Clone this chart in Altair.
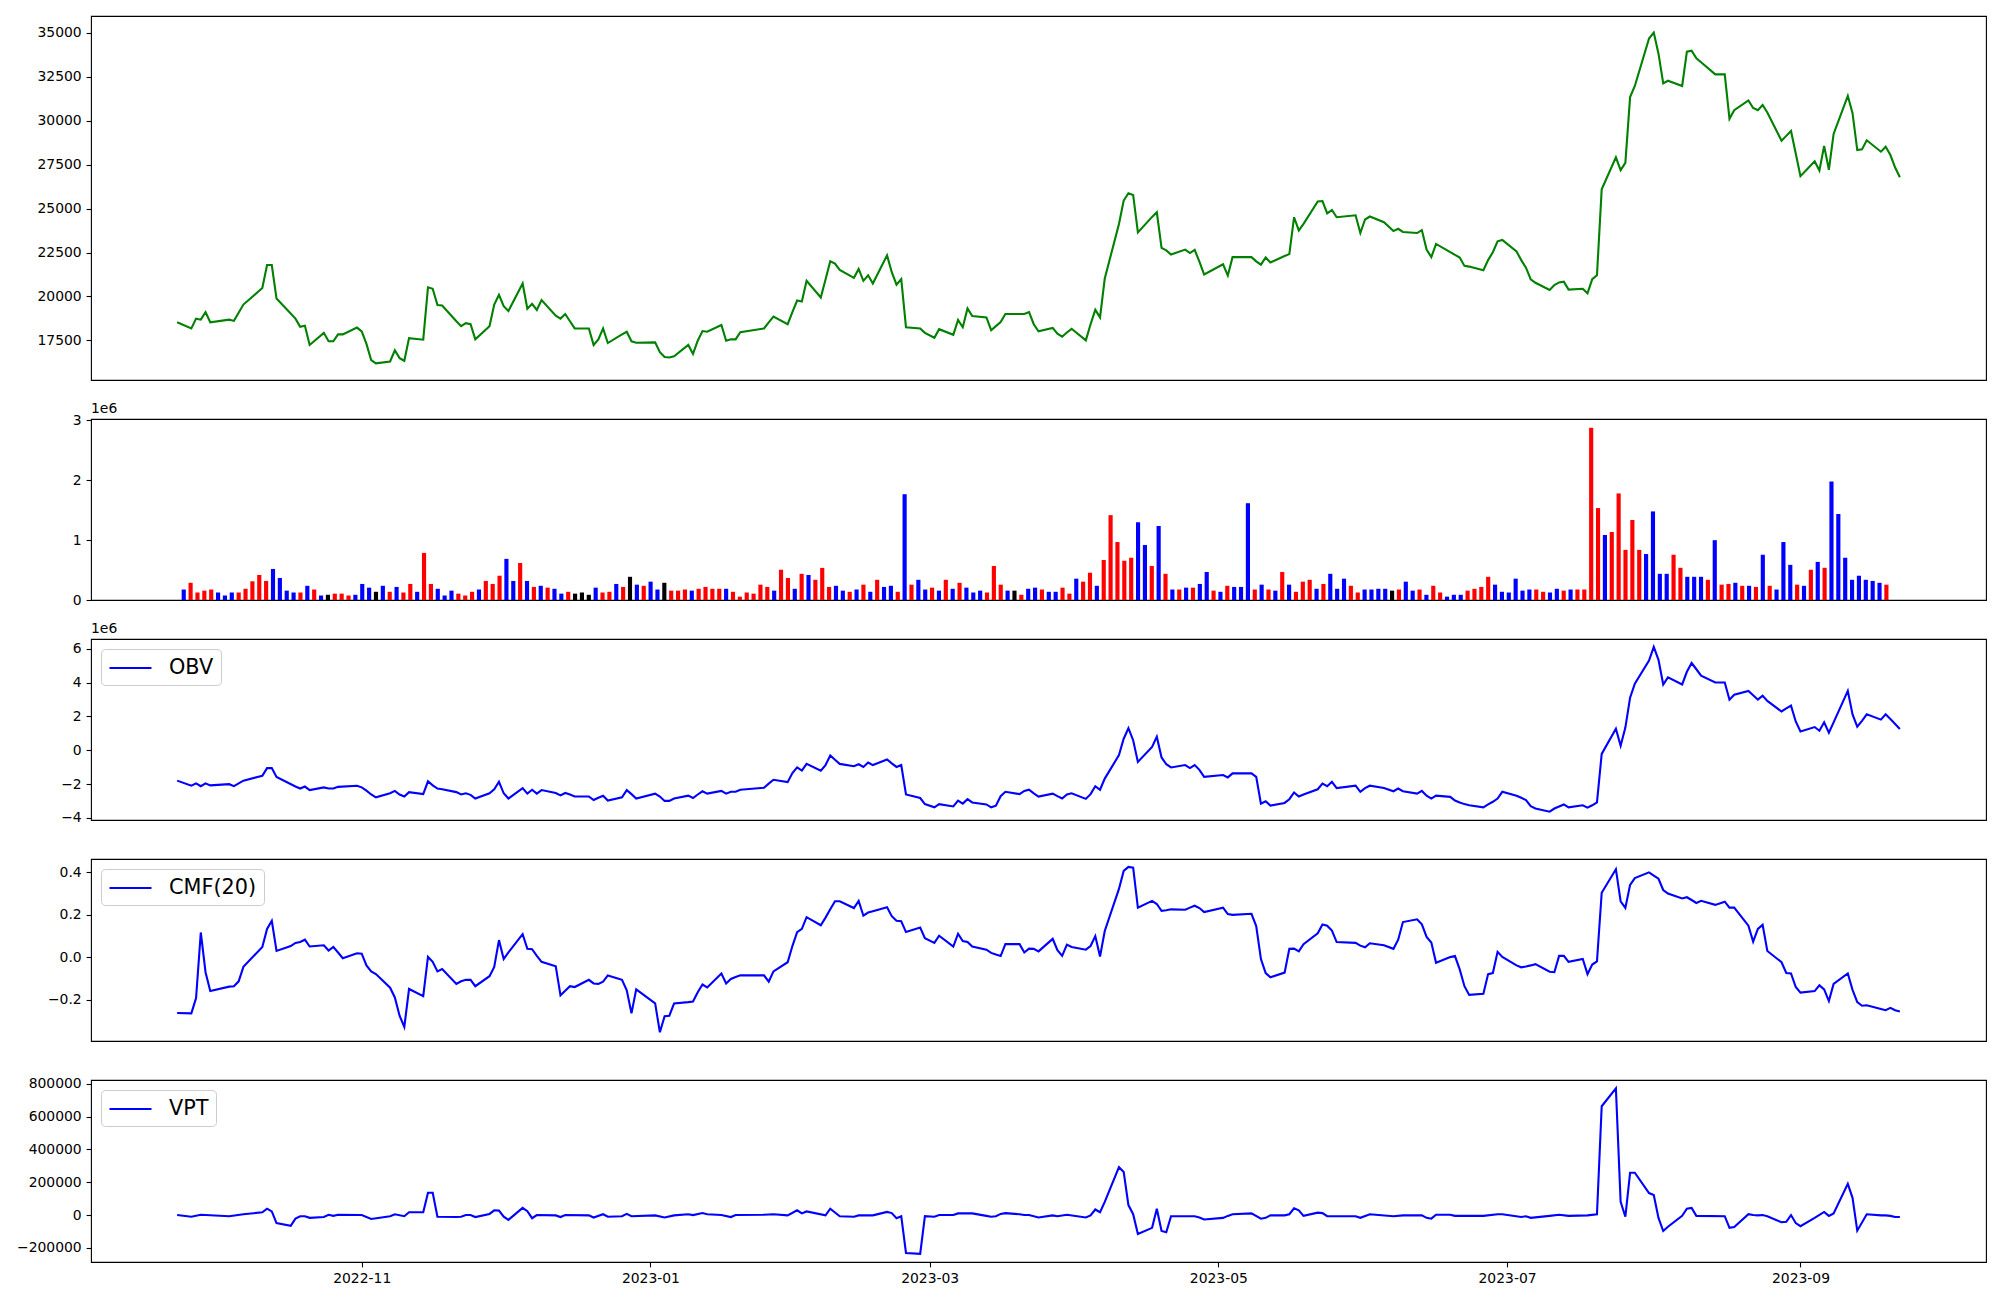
import altair as alt
import pandas as pd

START = pd.Timestamp("2022-09-23")

# (calendar days since 2022-09-23, close)
price_points = [
    (0,18530),(3,18180),(4,18740),(5,18680),(6,19110),(7,18530),(11,18680),(12,18610),(14,19540),
    (18,20480),(19,21790),(20,21790),(21,19880),(25,18740),(26,18270),(27,18330),(28,17240),
    (31,17930),(32,17450),(33,17450),(34,17840),(35,17840),(38,18230),(39,18010),(40,17300),(41,16380),(42,16190),
    (45,16300),(46,16940),(47,16490),(48,16340),(49,17630),(52,17540),(53,20520),(54,20440),(55,19510),(56,19490),
    (59,18590),(60,18310),(61,18480),(62,18420),(63,17560),(66,18310),(67,19540),(68,20090),(69,19450),(70,19170),
    (73,20740),(74,19300),(75,19580),(76,19230),(77,19790),(80,18910),(81,18740),(82,19000),(83,18590),(84,18180),
    (87,18180),(88,17240),(89,17560),(90,18180),(91,17350),(94,17840),(95,17990),(96,17450),(97,17370),
    (101,17390),(102,16830),(103,16550),(104,16530),(105,16600),(108,17240),(109,16730),(110,17480),(111,18030),(112,17990),
    (115,18380),(116,17480),(117,17560),(118,17560),(119,17970),(124,18180),(125,18530),(126,18850),
    (129,18420),(130,19110),(131,19770),(132,19710),(133,20890),(136,19940),(137,20970),(138,22000),(139,21870),(140,21510),
    (143,21060),(144,21570),(145,20890),(146,21210),(147,20740),(150,22340),(151,21380),(152,20670),(153,20990),(154,18250),
    (157,18180),(158,17930),(160,17650),(161,18140),(164,17820),(165,18660),(166,18250),(167,19320),(168,18890),
    (171,18810),(172,18080),(173,18310),(174,18550),(175,19000),(178,19000),(179,19000),(180,19110),(181,18420),(182,18020),
    (185,18210),(186,17880),(187,17710),(188,17950),(189,18160),(192,17500),(193,18420),(194,19240),(195,18810),(196,21020),
    (199,24130),(200,25460),(201,25880),(202,25780),(203,23650),(206,24530),(207,24790),(208,22770),(209,22620),(210,22390),
    (213,22670),(214,22470),(215,22650),(216,21980),(217,21250),(221,21830),(222,21190),(223,22240),
    (227,22240),(228,22000),(229,21810),(230,22220),(231,21940),(234,22300),(235,22410),(236,24510),(237,23760),(238,24130),
    (241,25410),(242,25430),(243,24730),(244,24920),(245,24510),(249,24620),(250,23610),(251,24380),(252,24550),
    (255,24230),(257,23720),(258,23850),(259,23670),(262,23610),(263,23780),(264,22670),(265,22240),(266,22990),
    (269,22520),(270,22370),(271,22220),(272,21740),(273,21700),(276,21490),(277,22070),(278,22520),(279,23140),(280,23220),
    (283,22560),(284,22070),(285,21640),(286,20970),(287,20780),(290,20370),(291,20650),(292,20800),(293,20840),(294,20390),
    (297,20440),(298,20180),(299,20990),(300,21210),(301,26100),(304,27920),(305,27190),(306,27600),(307,31350),(308,31980),
    (311,34680),(312,35020),(313,33820),(314,32130),(315,32280),(318,31980),(319,33930),(320,33990),(321,33560),(322,33330),
    (325,32640),(327,32640),(328,30110),(329,30600),(332,31160),(333,30730),(334,30600),(335,30900),(336,30470),
    (339,28870),(340,29140),(341,29420),(342,28140),(343,26850),(346,27690),(347,27170),(348,28570),(349,27210),(350,29250),
    (353,31420),(354,30430),(355,28330),(356,28370),(357,28890),(360,28240),(361,28520),(362,28050),(363,27340),(364,26790),
]

# daily volume, in thousands (one bar per trading day)
volume_k = [
    175,287,125,156,175,125,75,125,125,187,312,418,318,518,368,156,125,125,237,175,75,87,106,106,75,87,268,206,137,237,
    137,218,125,268,137,786,268,187,75,156,106,
    75,137,175,318,268,405,686,318,617,318,218,237,206,187,106,137,106,125,87,206,125,137,268,218,387,256,237,306,175,287,
    156,156,175,156,187,218,187,187,187,137,56,125,106,
    256,218,156,505,368,187,437,418,337,536,218,237,156,137,175,256,137,337,218,237,137,1765,256,337,175,206,156,337,187,287,
    206,125,156,125,568,256,156,156,87,187,206,175,
    137,137,206,106,356,306,455,237,667,1416,967,655,705,1297,917,568,1235,437,175,175,206,206,268,468,156,137,237,218,218,1615,
    175,256,175,156,468,256,137,306,337,187,268,437,
    187,356,237,125,175,175,187,187,156,175,306,156,175,87,237,125,56,87,87,156,187,218,387,256,137,125,356,156,175,175,
    137,125,187,156,175,175,175,2875,1534,1085,1135,1778,
    836,1335,836,767,1478,437,437,755,537,387,387,387,337,998,256,268,287,237,237,218,755,237,175,967,586,256,237,505,636,537,
    1977,1435,705,337,405,337,318,287,256,306,
]
# bar colour codes: r = red, b = blue, k = black
volume_codes = (
    "brrrrbbbrrrrrbbbbrbrbkrrrbbbkbrbrrbrrbbbr"
    "rrbrrrbbrbrbrbbrkkkbrrbrkbrbbkrrrbrrrrbrrrr"
    "rrbrrbrbrrrbbrbrbrbbrbrbbrbrbrbbbrrrbkrbbr"
    "bbrrbrrbrrrrrbbrbrbrbrbbrbrbbbrbrbrbrrrbrb"
    "bbrrbbbbkrbbrbrrbbbrrrrbbbbbbrrbbrbrrrrbrr"
    "rrrbbbbrrbbbrbrrbrbrbrbbbrbrbrbbbbbbbbr"
)
color_names = {"r": "red", "b": "blue", "k": "black"}

# (calendar days since 2022-09-23, OBV in millions)
obv_points = [
    (0,-1.80),(3,-2.10),(4,-1.96),(5,-2.13),(6,-1.96),(7,-2.08),(11,-2.01),(12,-2.13),(14,-1.80),(18,-1.51),(19,-1.06),(20,-1.06),(21,-1.58),
    (25,-2.15),(26,-2.27),(27,-2.15),(28,-2.36),(31,-2.20),(32,-2.27),(33,-2.27),(34,-2.17),(38,-2.10),(39,-2.20),(40,-2.39),(41,-2.62),(42,-2.79),
    (45,-2.55),(46,-2.41),(47,-2.62),(48,-2.74),(49,-2.48),(52,-2.60),(53,-1.84),(54,-2.08),(55,-2.27),(56,-2.31),
    (59,-2.48),(60,-2.62),(61,-2.55),(62,-2.64),(63,-2.86),(66,-2.55),(67,-2.31),(68,-1.87),(69,-2.55),(70,-2.86),
    (73,-2.24),(74,-2.57),(75,-2.34),(76,-2.57),(77,-2.36),(80,-2.53),(81,-2.67),(82,-2.53),(83,-2.62),(84,-2.74),
    (87,-2.74),(88,-2.95),(89,-2.81),(90,-2.69),(91,-2.98),(94,-2.79),(95,-2.36),(96,-2.60),(97,-2.86),
    (101,-2.57),(102,-2.74),(103,-3.00),(104,-3.00),(105,-2.86),(108,-2.69),(109,-2.83),(110,-2.62),(111,-2.43),(112,-2.57),
    (115,-2.41),(116,-2.57),(117,-2.46),(118,-2.46),(119,-2.34),(124,-2.22),(125,-1.98),(126,-1.75),
    (129,-1.89),(130,-1.35),(131,-1.02),(132,-1.21),(133,-0.81),(136,-1.21),(137,-0.88),(138,-0.31),(139,-0.57),(140,-0.81),
    (143,-0.95),(144,-0.83),(145,-0.99),(146,-0.73),(147,-0.88),(150,-0.55),(151,-0.78),(152,-0.99),(153,-0.88),(154,-2.62),
    (157,-2.83),(158,-3.19),(160,-3.38),(161,-3.19),(164,-3.33),(165,-2.98),(166,-3.16),(167,-2.90),(168,-3.09),
    (171,-3.21),(172,-3.38),(173,-3.28),(174,-2.72),(175,-2.46),(178,-2.60),(179,-2.41),(180,-2.34),(181,-2.55),(182,-2.74),
    (185,-2.57),(186,-2.72),(187,-2.86),(188,-2.62),(189,-2.55),(192,-2.88),(193,-2.60),(194,-2.13),(195,-2.34),(196,-1.68),
    (199,-0.29),(200,0.68),(201,1.30),(202,0.59),(203,-0.69),(206,0.19),(207,0.80),(208,-0.43),(209,-0.83),(210,-1.02),
    (213,-0.88),(214,-1.06),(215,-0.88),(216,-1.16),(217,-1.58),(221,-1.47),(222,-1.61),(223,-1.37),
    (227,-1.37),(228,-1.58),(229,-3.16),(230,-3.02),(231,-3.28),(234,-3.12),(235,-2.90),(236,-2.50),(237,-2.74),(238,-2.62),
    (241,-2.31),(242,-1.98),(243,-2.13),(244,-1.87),(245,-2.24),(249,-2.10),(250,-2.46),(251,-2.24),(252,-2.10),
    (255,-2.24),(257,-2.43),(258,-2.27),(259,-2.43),(262,-2.57),(263,-2.41),(264,-2.69),(265,-2.86),(266,-2.69),
    (269,-2.76),(270,-2.98),(271,-3.09),(272,-3.19),(273,-3.26),(276,-3.38),(277,-3.21),(278,-3.05),(279,-2.86),(280,-2.46),
    (283,-2.69),(284,-2.81),(285,-2.95),(286,-3.31),(287,-3.45),(290,-3.64),(291,-3.45),(292,-3.33),(293,-3.21),(294,-3.38),
    (297,-3.26),(298,-3.40),(299,-3.26),(300,-3.09),(301,-0.22),(304,1.27),(305,0.26),(306,1.34),(307,3.11),(308,3.94),
    (311,5.30),(312,6.11),(313,5.35),(314,3.89),(315,4.31),(318,3.89),(319,4.64),(320,5.16),(321,4.79),(322,4.41),
    (325,4.01),(327,4.01),(328,2.99),(329,3.28),(332,3.51),(333,3.25),(334,2.99),(335,3.23),(336,2.92),
    (339,2.29),(340,2.47),(341,2.64),(342,1.70),(343,1.11),(346,1.37),(347,1.15),(348,1.65),(349,1.04),(350,1.65),
    (353,3.51),(354,2.12),(355,1.39),(356,1.74),(357,2.12),(360,1.81),(361,2.12),(362,1.84),(363,1.55),(364,1.25),
]

# (calendar days since 2022-09-23, CMF(20))
cmf_points = [
    (0,-0.263),(3,-0.265),(4,-0.193),(5,0.116),(6,-0.071),(7,-0.160),(11,-0.139),(12,-0.137),(13,-0.114),(14,-0.046),
    (18,0.048),(19,0.133),(20,0.171),(21,0.029),(24,0.052),(25,0.067),(26,0.071),(27,0.082),(28,0.050),
    (31,0.056),(32,0.031),(33,0.048),(34,0.022),(35,-0.005),(38,0.018),(39,0.016),(40,-0.039),(41,-0.067),(42,-0.080),
    (45,-0.144),(46,-0.190),(47,-0.276),(48,-0.329),(49,-0.150),(52,-0.184),(53,0.001),(54,-0.022),(55,-0.067),(56,-0.056),
    (59,-0.126),(60,-0.114),(61,-0.107),(62,-0.107),(63,-0.137),(66,-0.090),(67,-0.046),(68,0.080),(69,-0.009),(70,0.022),
    (73,0.108),(74,0.039),(75,0.037),(76,0.006),(77,-0.022),(80,-0.043),(81,-0.180),(82,-0.158),(83,-0.137),(84,-0.141),
    (87,-0.107),(88,-0.124),(89,-0.126),(90,-0.116),(91,-0.086),(94,-0.107),(95,-0.156),(96,-0.265),(97,-0.152),
    (101,-0.218),(102,-0.354),(103,-0.278),(104,-0.276),(105,-0.218),(108,-0.212),(109,-0.209),(110,-0.165),(111,-0.129),(112,-0.143),
    (115,-0.077),(116,-0.124),(117,-0.103),(118,-0.094),(119,-0.086),(124,-0.086),(125,-0.116),(126,-0.067),
    (129,-0.024),(130,0.052),(131,0.118),(132,0.133),(133,0.188),(136,0.150),(137,0.186),(138,0.225),(139,0.263),(140,0.263),
    (143,0.231),(144,0.265),(145,0.195),(146,0.210),(147,0.216),(150,0.235),(151,0.193),(152,0.171),(153,0.169),(154,0.118),
    (157,0.139),(158,0.089),(160,0.067),(161,0.101),(164,0.050),(165,0.110),(166,0.076),(167,0.071),(168,0.050),
    (171,0.035),(172,0.020),(173,0.012),(174,0.005),(175,0.061),(178,0.061),(179,0.022),(180,0.040),(181,0.039),(182,0.027),
    (185,0.086),(186,0.033),(187,0.006),(188,0.059),(189,0.048),(192,0.035),(193,0.052),(194,0.099),(195,0.003),(196,0.123),
    (199,0.321),(200,0.406),(201,0.425),(202,0.421),(203,0.233),(206,0.265),(207,0.250),(208,0.218),(209,0.221),(210,0.225),
    (213,0.223),(214,0.233),(215,0.242),(216,0.231),(217,0.212),(221,0.233),(222,0.203),(223,0.199),
    (227,0.204),(228,0.146),(229,-0.009),(230,-0.075),(231,-0.095),(234,-0.073),(235,0.039),(236,0.040),(237,0.027),(238,0.061),
    (241,0.112),(242,0.154),(243,0.148),(244,0.125),(245,0.071),(249,0.067),(250,0.054),(251,0.046),(252,0.065),
    (255,0.056),(257,0.039),(258,0.082),(259,0.165),(262,0.178),(263,0.154),(264,0.095),(265,0.069),(266,-0.027),
    (269,0.000),(270,0.005),(271,-0.058),(272,-0.137),(273,-0.178),(276,-0.173),(277,-0.080),(278,-0.075),(279,0.025),(280,0.001),
    (283,-0.039),(284,-0.048),(285,-0.044),(286,-0.039),(287,-0.033),(290,-0.069),(291,-0.071),(292,0.006),(293,0.006),(294,-0.022),
    (297,-0.009),(298,-0.080),(299,-0.035),(300,-0.020),(301,0.303),(304,0.414),(305,0.263),(306,0.232),(307,0.340),(308,0.372),
    (311,0.399),(312,0.384),(313,0.369),(314,0.316),(315,0.299),(318,0.276),(319,0.282),(320,0.269),(321,0.255),(322,0.265),
    (325,0.246),(327,0.261),(328,0.233),(329,0.233),(332,0.148),(333,0.073),(334,0.133),(335,0.152),(336,0.029),
    (339,-0.024),(340,-0.075),(341,-0.077),(342,-0.141),(343,-0.167),(346,-0.160),(347,-0.133),(348,-0.152),(349,-0.207),(350,-0.126),
    (353,-0.077),(354,-0.154),(355,-0.212),(356,-0.229),(357,-0.227),(360,-0.244),(361,-0.250),(362,-0.239),(363,-0.250),(364,-0.256),
]

# (calendar days since 2022-09-23, VPT in thousands)
vpt_points = [
    (0,0),(3,-10),(5,2),(11,-7),(14,5),(18,17),(19,39),(20,22),(21,-49),(24,-66),(25,-22),(26,-7),(27,-7),(28,-17),
    (31,-12),(32,2),(33,-5),(34,2),(39,0),(41,-24),(45,-7),(46,5),(48,-7),(49,17),(52,17),(53,136),(54,136),(55,-10),
    (59,-12),(60,-10),(61,0),(62,0),(63,-12),(66,7),(67,29),(68,27),(69,-10),(70,-29),(73,44),(74,24),(75,-19),(76,0),
    (80,-2),(81,-12),(82,0),(87,-2),(88,-15),(90,5),(91,-10),(94,-7),(95,7),(96,-7),(101,-2),(103,-15),(105,-2),
    (108,5),(109,0),(111,12),(112,5),(115,0),(117,-12),(118,0),(124,2),(126,5),(129,-2),(131,29),(132,10),(133,22),
    (137,-2),(138,39),(140,-7),(143,-10),(144,-2),(147,-2),(150,19),(151,12),(152,-19),(153,-7),(154,-231),(157,-236),
    (158,-7),(160,-10),(161,0),(164,0),(165,10),(168,10),(171,-5),(172,-10),(173,-7),(174,7),(175,12),(178,5),(179,0),
    (180,0),(182,-15),(185,-2),(186,-7),(188,2),(192,-15),(193,-2),(194,34),(195,17),(196,80),(199,292),(200,263),
    (201,61),(202,5),(203,-115),(206,-78),(207,39),(208,-97),(209,-105),(210,-7),(215,-7),(216,-15),(217,-27),
    (221,-17),(222,-5),(223,5),(227,10),(229,-22),(230,-17),(231,-2),(234,-2),(235,5),(236,41),(237,29),(238,-5),
    (241,15),(242,12),(243,-7),(245,-7),(249,-7),(250,-17),(252,5),(257,-7),(259,-2),(263,-2),(264,-17),(265,-22),
    (266,2),(269,2),(270,-5),(276,-5),(279,5),(280,5),(284,-12),(285,-7),(286,-17),(290,-5),(292,2),(294,-5),
    (298,-2),(300,5),(301,663),(304,772),(305,80),(306,-10),(307,258),(308,258),(311,134),(312,122),(313,-17),
    (314,-97),(315,-71),(318,-5),(319,39),(320,44),(321,-5),(327,-7),(328,-78),(329,-73),(332,5),(333,0),(334,-2),
    (335,0),(336,-7),(339,-44),(340,-41),(341,0),(342,-49),(343,-68),(346,-17),(348,19),(349,-5),(350,10),
    (353,190),(354,105),(355,-95),(357,5),(360,-2),(361,-2),(362,-5),(363,-12),(364,-12),
]

offset_label = ["1e6"]
price_ticks = [17500, 20000, 22500, 25000, 27500, 30000, 32500, 35000]
volume_ticks = [0, 1e6, 2e6, 3e6]
obv_ticks = [-4e6, -2e6, 0, 2e6, 4e6, 6e6]
cmf_ticks = [-0.2, 0.0, 0.2, 0.4]
vpt_ticks = [-200000, 0, 200000, 400000, 600000, 800000]


def series_frame(points, factor=1.0, name=None):
    df = pd.DataFrame(points, columns=["day", "value"])
    df["date"] = [(START + pd.Timedelta(days=int(d))).strftime("%Y-%m-%dT00:00:00") for d in df["day"]]
    df["value"] = df["value"] * factor
    if name is not None:
        df["name"] = name
    return df.drop(columns=["day"])


price_df = series_frame(price_points)
obv_df = series_frame(obv_points, 1e6, "OBV")
cmf_df = series_frame(cmf_points, 1.0, "CMF(20)")
vpt_df = series_frame(vpt_points, 1e3, "VPT")

n = min(len(volume_k), len(volume_codes))
vol_df = pd.DataFrame({
    "idx": list(range(n)),
    "volume": [v * 1000 for v in volume_k[:n]],
    "color": [color_names[c] for c in volume_codes[:n]],
})
off_df = pd.DataFrame({"t": offset_label})

W = 1895
FONT = "DejaVu Sans"
X_DOMAIN = [
    alt.DateTime(year=2022, month=9, date=4, hours=19, minutes=12),
    alt.DateTime(year=2023, month=10, date=10, hours=4, minutes=48),
]
x_scale = alt.Scale(domain=X_DOMAIN, nice=False)
month_ticks = [alt.DateTime(year=y, month=m, date=1) for (y, m) in
               [(2022, 11), (2023, 1), (2023, 3), (2023, 5), (2023, 7), (2023, 9)]]


def legend():
    # wide flat stroke symbol: 42 px long, entry only 21 px tall
    return alt.Legend(title=None, orient="top-left", offset=10, padding=7,
                      fillColor="white", strokeColor="#cccccc", cornerRadius=4,
                      labelFont=FONT, labelFontSize=20.8, labelColor="black",
                      symbolType="M-1,0H3", symbolSize=441, symbolStrokeWidth=2.1,
                      labelOffset=37)


def offset_text():
    return alt.Chart(off_df).mark_text(align="left", baseline="middle", font=FONT,
                                       fontSize=13.9, color="black").encode(
        text="t:N", x=alt.value(0), y=alt.value(-10))


price = alt.Chart(price_df).mark_line(color="green", strokeWidth=2.1).encode(
    x=alt.X("date:T", scale=x_scale, axis=None),
    y=alt.Y("value:Q", scale=alt.Scale(domain=[15246, 35963], nice=False, zero=False),
            axis=alt.Axis(values=price_ticks, format="d", title=None)),
).properties(width=W, height=364)

bars = alt.Chart(vol_df).mark_bar(size=4.15).encode(
    x=alt.X("idx:Q", scale=alt.Scale(domain=[-12.78, 261.78], nice=False, zero=False), axis=None),
    y=alt.Y("volume:Q", scale=alt.Scale(domain=[0, 3.02e6], nice=False),
            axis=alt.Axis(values=volume_ticks, labelExpr="format(datum.value/1000000, 'd')", title=None)),
    color=alt.Color("color:N", scale=None),
)
volume = alt.layer(bars, offset_text()).properties(width=W, height=181)

obv_line = alt.Chart(obv_df).mark_line(strokeWidth=2.1).encode(
    x=alt.X("date:T", scale=x_scale, axis=None),
    y=alt.Y("value:Q", scale=alt.Scale(domain=[-4.13e6, 6.58e6], nice=False, zero=False),
            axis=alt.Axis(values=obv_ticks, labelExpr="format(datum.value/1000000, 'd')", title=None)),
    color=alt.Color("name:N", scale=alt.Scale(domain=["OBV"], range=["blue"]), legend=legend()),
)
obv = alt.layer(obv_line, offset_text()).properties(width=W, height=181)

cmf = alt.Chart(cmf_df).mark_line(strokeWidth=2.1).encode(
    x=alt.X("date:T", scale=x_scale, axis=None),
    y=alt.Y("value:Q", scale=alt.Scale(domain=[-0.395, 0.462], nice=False, zero=False),
            axis=alt.Axis(values=cmf_ticks, format=".1f", title=None)),
    color=alt.Color("name:N", scale=alt.Scale(domain=["CMF(20)"], range=["blue"]), legend=legend()),
).properties(width=W, height=182)

vpt = alt.Chart(vpt_df).mark_line(strokeWidth=2.1).encode(
    x=alt.X("date:T", scale=x_scale,
            axis=alt.Axis(values=month_ticks, format="%Y-%m", title=None, labelAngle=0,
                          labelFlush=False, labelOverlap=False)),
    y=alt.Y("value:Q", scale=alt.Scale(domain=[-286000, 823000], nice=False, zero=False),
            axis=alt.Axis(values=vpt_ticks, format="d", title=None)),
    color=alt.Color("name:N", scale=alt.Scale(domain=["VPT"], range=["blue"]), legend=legend()),
).properties(width=W, height=182)

chart = alt.vconcat(price, volume, obv, cmf, vpt, spacing=39, bounds="flush").resolve_scale(
    color="independent"
).resolve_legend(color="independent").properties(
    padding={"left": 7, "top": 7, "right": 5, "bottom": 5}, background="white"
).configure_view(stroke="black", strokeWidth=1.1).configure_axis(
    labelFont=FONT, labelFontSize=13.9, labelColor="black", tickColor="black",
    tickWidth=1.1, tickSize=4.9, labelPadding=4.9, domain=False, grid=False,
)

chart.save("out.html", embed_options={"renderer": "svg", "actions": False})
